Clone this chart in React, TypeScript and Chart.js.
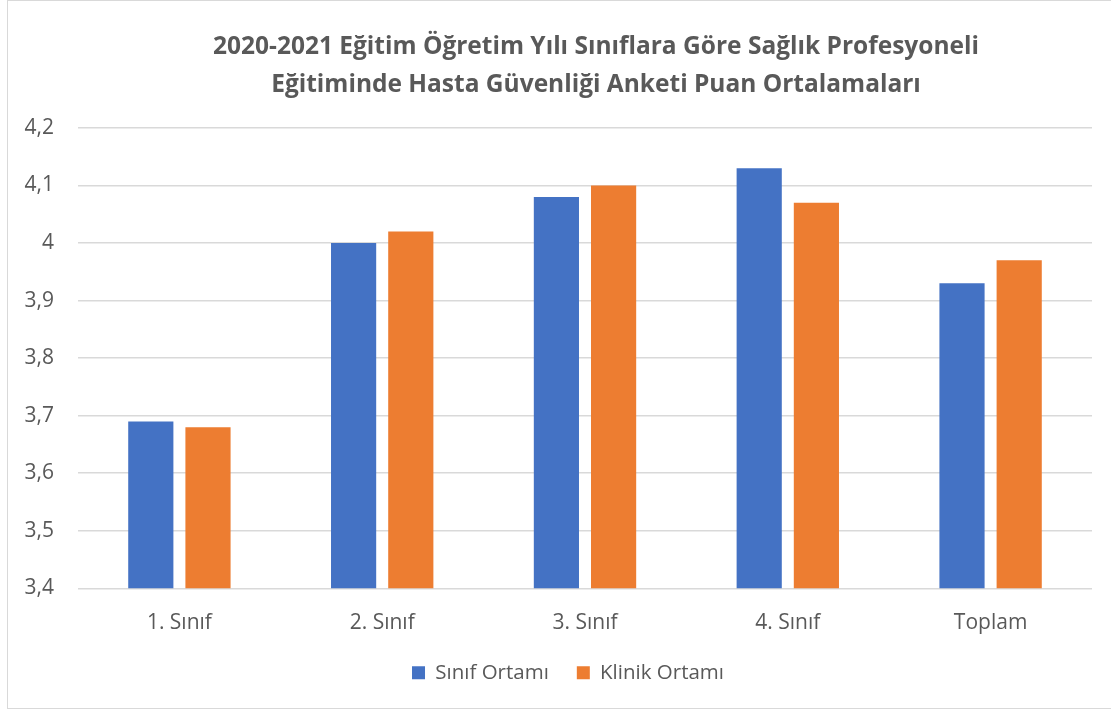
import React, { useEffect, useRef } from "react";
import { Chart, registerables } from "chart.js";

Chart.register(...registerables);

const titleLines = [
  "2020-2021 Eğitim Öğretim Yılı Sınıflara Göre Sağlık Profesyoneli",
  "Eğitiminde Hasta Güvenliği Anketi Puan Ortalamaları",
];
const categories = ["1. Sınıf", "2. Sınıf", "3. Sınıf", "4. Sınıf", "Toplam"];
const sinifOrtami = [3.69, 4.0, 4.08, 4.13, 3.93];
const klinikOrtami = [3.68, 4.02, 4.1, 4.07, 3.97];
const seriesNames = ["Sınıf Ortamı", "Klinik Ortamı"];

const FONT = "'Open Sans', sans-serif";
const TEXT = "#595959";

const shiftBoxes = {
  id: "shiftBoxes",
  afterLayout(chart: any) {
    const t = chart.titleBlock;
    if (t) {
      t.left += 50;
      t.right += 50;
    }
    const l = chart.legend;
    if (l) {
      l.left += 22;
      l.right += 22;
    }
  },
};

export default function App() {
  const ref = useRef<HTMLCanvasElement | null>(null);

  useEffect(() => {
    document.body.style.margin = "0";
    const canvas = ref.current;
    if (!canvas) return;
    const chart = new Chart(canvas, {
      type: "bar",
      data: {
        labels: categories,
        datasets: [
          {
            label: seriesNames[0],
            data: sinifOrtami,
            backgroundColor: "#4472C4",
            borderWidth: 0,
            categoryPercentage: 0.564,
            barPercentage: 0.79,
          },
          {
            label: seriesNames[1],
            data: klinikOrtami,
            backgroundColor: "#ED7D31",
            borderWidth: 0,
            categoryPercentage: 0.564,
            barPercentage: 0.79,
          },
        ],
      },
      plugins: [shiftBoxes],
      options: {
        responsive: false,
        animation: false,
        layout: { padding: { left: 0, right: 19, top: 0, bottom: 20 } },
        plugins: {
          title: {
            display: true,
            text: titleLines,
            color: TEXT,
            font: { family: FONT, size: 24.5, weight: "bold", lineHeight: 1.55 },
            padding: { top: 28, bottom: 24 },
          },
          legend: {
            position: "bottom",
            labels: {
              color: TEXT,
              font: { family: FONT, size: 20.5 },
              boxWidth: 13,
              boxHeight: 13,
              padding: 28,
            },
          },
          tooltip: { enabled: false },
        },
        scales: {
          x: {
            grid: { display: false },
            border: { display: false },
            afterFit: (scale: any) => {
              scale.height = scale.height - 15;
            },
            ticks: {
              color: TEXT,
              font: { family: FONT, size: 21 },
              padding: 14,
            },
          },
          y: {
            min: 3.4,
            max: 4.2,
            afterFit: (scale: any) => {
              scale.width = 78;
            },
            grid: { color: "#d9d9d9", lineWidth: 1.5, drawTicks: false },
            border: { display: false },
            ticks: {
              stepSize: 0.1,
              color: TEXT,
              font: { family: FONT, size: 21 },
              padding: 24,
              callback: (v: any) => Number(Number(v).toFixed(1)).toString().replace(".", ","),
            },
          },
        },
      },
    });
    return () => chart.destroy();
  }, []);

  return (
    <div style={{ position: "fixed", left: 0, top: 0, width: 1111, height: 713, background: "#fff", overflow: "hidden" }}>
      <canvas ref={ref} width={1111} height={713} style={{ position: "absolute", left: 0, top: 0 }} />
      <div
        style={{
          position: "absolute",
          left: 7,
          top: 0,
          width: 1120,
          height: 709,
          border: "1.5px solid #d9d9d9",
          boxSizing: "border-box",
          pointerEvents: "none",
        }}
      />
    </div>
  );
}
